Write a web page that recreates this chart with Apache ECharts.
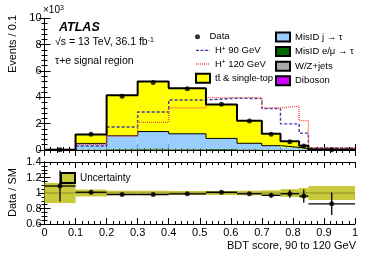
<!DOCTYPE html>
<html><head><meta charset="utf-8">
<script src="https://cdn.jsdelivr.net/npm/echarts@6/dist/echarts.min.js"></script>
<style>html,body{margin:0;padding:0;background:#fff}#c{width:374px;height:268px}</style>
</head><body><div id="c"></div>
<script>
// ---- data ----
const binEdges   = [0, 0.1, 0.2, 0.3, 0.4, 0.52, 0.62, 0.7, 0.76, 0.82, 0.85, 1.0];
const dataEvents = [0.02, 1.2, 4.08, 5.12, 4.65, 3.48, 2.2, 1.2, 0.63, 0.31, 0.025];
const diboson    = [0, 0, 0.01, 0.01, 0.01, 0.01, 0, 0, 0, 0, 0];
const wzJets     = [0, 0.01, 0.02, 0.02, 0.02, 0.01, 0.01, 0.01, 0, 0, 0];
const misidEmu   = [0, 0.03, 0.06, 0.08, 0.07, 0.06, 0.04, 0.02, 0.01, 0.01, 0];
const misidJet   = [0.01, 0.46, 0.99, 1.29, 1.13, 0.80, 0.46, 0.30, 0.19, 0.09, 0.01];
const ttbarTop   = [0.01, 0.68, 3.07, 3.8, 3.45, 2.57, 1.71, 0.9, 0.46, 0.23, 0.02];
const hplus90    = [0.01, 0.3, 1.75, 2.88, 3.8, 3.93, 3.9, 3.15, 1.98, 1.28, 0.15];
const hplus120   = [0.01, 0.42, 1.05, 2.1, 3.2, 3.98, 3.98, 3.2, 3.33, 2.23, 0.17];
const ratio      = [1.09, 1.01, 0.98, 0.98, 0.99, 1.01, 0.99, 0.97, 0.99, 0.96, 0.86];
const ratioErr   = [0.2, 0.025, 0.015, 0.015, 0.015, 0.02, 0.02, 0.03, 0.05, 0.085, 0.145];
const uncert     = [0.13, 0.045, 0.03, 0.03, 0.025, 0.025, 0.03, 0.035, 0.05, 0.065, 0.09];
const xTicks     = [0, 0.1, 0.2, 0.3, 0.4, 0.5, 0.6, 0.7, 0.8, 0.9, 1];

const FONT = 'Liberation Sans, Arial, Helvetica, sans-serif';
const nb = binEdges.length - 1;
const centers = binEdges.slice(0, nb).map((e, i) => (e + binEdges[i + 1]) / 2);

// stacking (bottom -> top)
const comps = [
  {name: 'Diboson', vals: diboson, color: '#cc00ff'},
  {name: 'W/Z+jets', vals: wzJets, color: '#aaaaaa'},
  {name: 'MisID e/\u03bc \u2192 \u03c4', vals: misidEmu, color: '#006600'},
  {name: 'MisID j \u2192 \u03c4', vals: misidJet, color: '#99ccff'},
  {name: 'tt\u0304 & single-top', vals: ttbarTop, color: '#ffff00'}
];
const cum = new Array(nb).fill(0);
const stackSeries = [];
let cumJ = null;
comps.forEach(c => {
  const rows = [];
  for (let i = 0; i < nb; i++) {
    const b = cum[i]; cum[i] += c.vals[i];
    rows.push([binEdges[i], binEdges[i + 1], b, cum[i]]);
  }
  if (c.name.indexOf('MisID j') === 0) cumJ = cum.slice();
  stackSeries.push({
    name: c.name, type: 'custom', xAxisIndex: 0, yAxisIndex: 0, z: 1,
    itemStyle: {color: c.color, borderColor: '#000', borderWidth: 1},
    encode: {x: [0, 1], y: [2, 3]}, data: rows, renderItem: rectRender
  });
});
const total = cum.slice();

function rectRender(params, api) {
  const a = api.coord([api.value(0), api.value(3)]);
  const b = api.coord([api.value(1), api.value(2)]);
  return {type: 'rect', shape: {x: a[0], y: a[1], width: b[0] - a[0], height: b[1] - a[1]},
          style: {fill: api.visual('color')}};
}
function errRender(params, api) {
  const lo = api.value(0), hi = api.value(1), c = api.value(2), r = api.value(3), e = api.value(4);
  const p1 = api.coord([lo, r]), p2 = api.coord([hi, r]);
  const p3 = api.coord([c, r - e]), p4 = api.coord([c, r + e]);
  return {type: 'group', children: [
    {type: 'line', shape: {x1: p1[0], y1: p1[1], x2: p2[0], y2: p2[1]}, style: {stroke: '#000', lineWidth: 1.3}},
    {type: 'line', shape: {x1: p3[0], y1: p3[1], x2: p4[0], y2: p4[1]}, style: {stroke: '#000', lineWidth: 1.3}}
  ]};
}
function stepPoints(vals) {
  const pts = [];
  vals.forEach((v, i) => { pts.push([binEdges[i], v]); pts.push([binEdges[i + 1], v]); });
  return pts;
}

const tickCommon = {
  axisLine: {show: true, lineStyle: {color: '#000', width: 1}},
  axisTick: {show: true, inside: true, length: 6, lineStyle: {color: '#000'}},
  minorTick: {show: true, splitNumber: 5, length: 3, lineStyle: {color: '#000'}},
  splitLine: {show: false}
};
function xAx(grid, pos, labels) {
  return Object.assign({type: 'value', gridIndex: grid, position: pos, min: 0, max: 1, interval: 0.1,
    axisLabel: {show: labels, fontSize: 11, color: '#000', fontFamily: FONT, margin: 3,
                showMinLabel: true, showMaxLabel: true,
                formatter: v => { const t = xTicks.find(k => Math.abs(k - v) < 1e-6); return t === undefined ? '' : String(t); }}
  }, tickCommon);
}
function yAx(grid, pos, min, max, interval, labels, minorSplit) {
  const o = Object.assign({type: 'value', gridIndex: grid, position: pos, min: min, max: max, interval: interval,
    axisLabel: {show: labels, fontSize: 11, color: '#000', fontFamily: FONT, margin: 3,
                showMinLabel: true, showMaxLabel: true,
                formatter: v => String(Math.round(v * 10) / 10)}
  }, tickCommon);
  o.minorTick = {show: true, splitNumber: minorSplit, length: 3, lineStyle: {color: '#000'}};
  return o;
}

const supRich = {sup: {fontSize: 6.5, verticalAlign: 'top', lineHeight: 6, fontFamily: FONT, color: '#000'}};

const series = [].concat(stackSeries, [
  {name: 'cumJ', type: 'line', xAxisIndex: 0, yAxisIndex: 0, z: 3, symbol: 'none', silent: true,
   data: stepPoints(cumJ), lineStyle: {color: '#000', width: 1}},
  {name: 'H+ 90 GeV', type: 'line', xAxisIndex: 0, yAxisIndex: 0, z: 4, symbol: 'none',
   data: stepPoints(hplus90), itemStyle: {color: '#3c3ca8'}, lineStyle: {color: '#3c3ca8', width: 1.4, type: [3, 2]}},
  {name: 'H+ 120 GeV', type: 'line', xAxisIndex: 0, yAxisIndex: 0, z: 4, symbol: 'none',
   data: stepPoints(hplus120), itemStyle: {color: '#ff4d4d'}, lineStyle: {color: '#ff4d4d', width: 1.4, type: [1, 1]}},
  {name: 'total', type: 'line', xAxisIndex: 0, yAxisIndex: 0, z: 5, symbol: 'none', silent: true,
   data: stepPoints(total), lineStyle: {color: '#000', width: 2}},
  {name: 'Data', type: 'scatter', xAxisIndex: 0, yAxisIndex: 0, z: 6, symbol: 'circle', symbolSize: 5,
   itemStyle: {color: '#000'}, data: centers.map((c, i) => [c, dataEvents[i]])},
  // ratio panel
  {name: 'Uncertainty', type: 'custom', xAxisIndex: 2, yAxisIndex: 2, z: 1,
   itemStyle: {color: '#c9c93c', borderColor: '#000', borderWidth: 1},
   encode: {x: [0, 1], y: [2, 3]}, renderItem: rectRender,
   data: uncert.map((u, i) => [binEdges[i], binEdges[i + 1], 1 - u, 1 + u])},
  {name: 'unity', type: 'line', xAxisIndex: 2, yAxisIndex: 2, z: 2, symbol: 'none', silent: true,
   data: [[0, 1], [1, 1]], lineStyle: {color: '#8f8f2a', width: 1}},
  {name: 'ratioErr', type: 'custom', xAxisIndex: 2, yAxisIndex: 2, z: 3, silent: true,
   itemStyle: {color: '#000'}, encode: {x: [0, 1], y: [3]}, renderItem: errRender,
   data: ratio.map((r, i) => [binEdges[i], binEdges[i + 1], centers[i], r, ratioErr[i]])},
  {name: 'ratioPts', type: 'scatter', xAxisIndex: 2, yAxisIndex: 2, z: 4, symbol: 'circle', symbolSize: 5, silent: true,
   itemStyle: {color: '#000'}, data: centers.map((c, i) => [c, ratio[i]])}
]);

const legText = {fontSize: 9.5, color: '#000', fontFamily: FONT, lineHeight: 10, rich: supRich};
const legFmt = n => n.replace('H+', 'H{sup|+}');
// legend line icons (bounding points keep a 14x9 box, strokes are thin bars at mid-height)
const dashIcon = 'path://M0,-3.75 M14,5.25 M0,0h3v1.3h-3z M4.5,0h3v1.3h-3z M9,0h3v1.3h-3z M13.5,0h0.5v1.3h-0.5z';
const dotIcon  = 'path://M0,-3.75 M14,5.25 M0,0h1v1.3h-1z M2,0h1v1.3h-1z M4,0h1v1.3h-1z M6,0h1v1.3h-1z M8,0h1v1.3h-1z M10,0h1v1.3h-1z M12,0h1v1.3h-1z';

const option = {
  animation: false,
  backgroundColor: '#fff',
  grid: [
    {left: 44.5, width: 310.5, top: 18.3, height: 131.7},
    {left: 44.5, width: 310.5, top: 162, height: 62}
  ],
  xAxis: [xAx(0, 'bottom', false), xAx(0, 'top', false), xAx(1, 'bottom', true), xAx(1, 'top', false)],
  yAxis: [yAx(0, 'left', 0, 10, 2, true, 5), yAx(0, 'right', 0, 10, 2, false, 5),
          yAx(1, 'left', 0.6, 1.4, 0.2, true, 4), yAx(1, 'right', 0.6, 1.4, 0.2, false, 4)],
  legend: [
    {left: 190, top: 26.7, orient: 'vertical', itemWidth: 14, itemHeight: 5, itemGap: 3.3,
     textStyle: legText, formatter: legFmt, selectedMode: false,
     data: [{name: 'Data', icon: 'circle'}]},
    {left: 190, top: 40.5, orient: 'vertical', itemWidth: 14, itemHeight: 9, itemGap: 3.6,
     textStyle: legText, formatter: legFmt, selectedMode: false,
     data: [
       {name: 'H+ 90 GeV', icon: dashIcon, itemStyle: {color: '#3c3ca8', borderWidth: 0}},
       {name: 'H+ 120 GeV', icon: dotIcon, itemStyle: {color: '#ff4d4d', borderWidth: 0}},
       {name: 'tt\u0304 & single-top', icon: 'rect'}]},
    {left: 270, top: 26.5, orient: 'vertical', itemWidth: 14, itemHeight: 9, itemGap: 3.6,
     textStyle: legText, selectedMode: false, icon: 'rect',
     data: ['MisID j \u2192 \u03c4', 'MisID e/\u03bc \u2192 \u03c4', 'W/Z+jets', 'Diboson']},
    {left: 55, top: 167, orient: 'vertical', itemWidth: 14, itemHeight: 10,
     textStyle: {fontSize: 10, color: '#000', fontFamily: FONT}, selectedMode: false, icon: 'rect',
     data: ['Uncertainty']}
  ],
  graphic: [
    {type: 'text', x: 59, y: 27.7, style: {text: 'ATLAS', font: 'italic bold 12.5px ' + FONT, fill: '#000', textVerticalAlign: 'middle'}},
    {type: 'text', x: 55, y: 42.5, style: {text: '\u221as = 13 TeV, 36.1 fb{sup|-1}', font: '10.5px ' + FONT, fill: '#000',
      textVerticalAlign: 'middle', lineHeight: 12, rich: {sup: {fontSize: 7, verticalAlign: 'top', lineHeight: 6, fontFamily: FONT}}}},
    {type: 'text', x: 55, y: 61.5, style: {text: '\u03c4+e signal region', font: '10.5px ' + FONT, fill: '#000', textVerticalAlign: 'middle'}},
    {type: 'text', x: 43, y: 10, style: {text: '\u00d710{sup|3}', font: '10px ' + FONT, fill: '#000', textVerticalAlign: 'middle',
      lineHeight: 11, rich: {sup: {fontSize: 7, verticalAlign: 'top', lineHeight: 6, fontFamily: FONT}}}},
    {type: 'text', x: 12.5, y: 15, rotation: Math.PI / 2,
     style: {text: 'Events / 0.1', font: '11px ' + FONT, fill: '#000', textAlign: 'right', textVerticalAlign: 'middle'}},
    {type: 'text', x: 12.5, y: 192.5, rotation: Math.PI / 2,
     style: {text: 'Data / SM', font: '11px ' + FONT, fill: '#000', textAlign: 'center', textVerticalAlign: 'middle'}},
    {type: 'text', x: 356, y: 246, style: {text: 'BDT score, 90 to 120 GeV', font: '11px ' + FONT, fill: '#000',
      textAlign: 'right', textVerticalAlign: 'middle'}}
  ],
  series: series
};
const chart = echarts.init(document.getElementById('c'), null, {renderer: 'canvas'});
chart.setOption(option);
</script>
</body></html>
